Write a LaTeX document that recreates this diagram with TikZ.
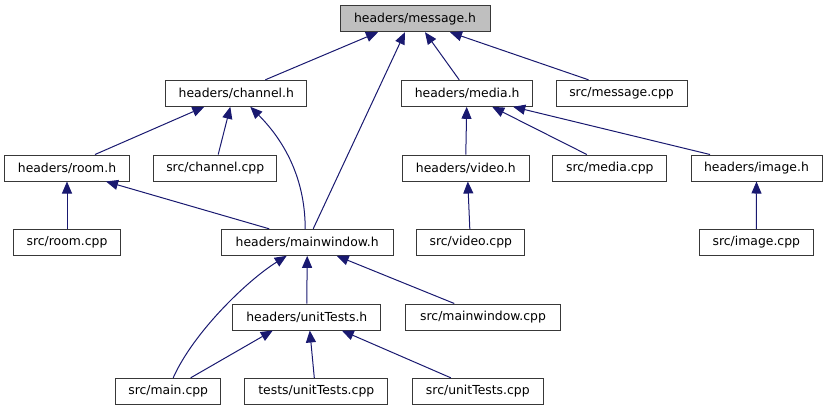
\documentclass[tikz,border=0pt]{standalone}
\usepackage{fontspec}
\setmainfont{DejaVu Sans}
\usetikzlibrary{arrows.meta}
\definecolor{midnight}{RGB}{25,25,112}
\definecolor{boxgray}{RGB}{191,191,191}
\begin{document}
\begin{tikzpicture}[x=1bp,y=-1bp,
  box/.style={draw=black!78, line width=1bp, rectangle, inner sep=0pt, minimum height=26bp, font=\fontsize{12.4bp}{14bp}\selectfont, fill=white},
  edge/.style={draw=midnight, line width=1bp, -{Triangle[length=12bp,width=10bp]}}]
\useasboundingbox (0,0) rectangle (827,411);
% nodes
\node[box, minimum width=150bp, fill=boxgray] (msg) at (415,18.7) {headers/message.h};
\node[box, minimum width=141bp] (ch) at (236.3,93.3) {headers/channel.h};
\node[box, minimum width=131bp] (med) at (467.2,93.3) {headers/media.h};
\node[box, minimum width=131bp] (msgcpp) at (621.5,93.3) {src/message.cpp};
\node[box, minimum width=124bp] (room) at (67,168) {headers/room.h};
\node[box, minimum width=123bp] (chcpp) at (215.2,168) {src/channel.cpp};
\node[box, minimum width=127bp] (vid) at (465.8,168) {headers/video.h};
\node[box, minimum width=114bp] (medcpp) at (609.8,168) {src/media.cpp};
\node[box, minimum width=131bp] (img) at (756.5,168) {headers/image.h};
\node[box, minimum width=107.4bp] (roomcpp) at (67,242.3) {src/room.cpp};
\node[box, minimum width=172.3bp] (mw) at (307.2,242.3) {headers/mainwindow.h};
\node[box, minimum width=108.3bp] (vidcpp) at (470.8,242.3) {src/video.cpp};
\node[box, minimum width=114bp] (imgcpp) at (756.3,242.3) {src/image.cpp};
\node[box, minimum width=148.3bp] (ut) at (306.8,317) {headers/unitTests.h};
\node[box, minimum width=154.6bp] (mwcpp) at (483,317) {src/mainwindow.cpp};
\node[box, minimum width=105bp] (maincpp) at (168.2,391.3) {src/main.cpp};
\node[box, minimum width=142.7bp] (tut) at (316.3,391.3) {tests/unitTests.cpp};
\node[box, minimum width=131bp] (sut) at (477.8,391.3) {src/unitTests.cpp};
% edges
\draw[edge] ([xshift=29bp]ch.north) -- ([xshift=-37bp]msg.south);
\draw[edge] ([xshift=6bp]mw.north) -- ([xshift=-10bp]msg.south);
\draw[edge] ([xshift=-8bp]med.north) -- ([xshift=10bp]msg.south);
\draw[edge] ([xshift=-33bp]msgcpp.north) -- ([xshift=35bp]msg.south);
\draw[edge] ([xshift=28bp]room.north) -- ([xshift=-32bp]ch.south);
\draw[edge] ([xshift=3bp]chcpp.north) -- ([xshift=-6bp]ch.south);
\draw[edge] ([xshift=-2bp]mw.north) .. controls +(0,-55) and +(30,30) .. ([xshift=14bp]ch.south);
\draw[edge] (vid.north) -- ([xshift=-0.5bp]med.south);
\draw[edge] ([xshift=-23bp]medcpp.north) -- ([xshift=25bp]med.south);
\draw[edge] ([xshift=-46.5bp]img.north) -- ([xshift=46bp]med.south);
\draw[edge] (roomcpp.north) -- (room.south);
\draw[edge] ([xshift=-38bp]mw.north) -- ([xshift=39bp]room.south);
\draw[edge] ([xshift=-1bp]vidcpp.north) -- ([xshift=2bp]vid.south);
\draw[edge] (imgcpp.north) -- (img.south);
\draw[edge] ([xshift=5bp]maincpp.north) .. controls +(20,-45) and +(-40,25) .. ([xshift=-20.5bp]mw.south);
\draw[edge] (ut.north) -- (mw.south);
\draw[edge] ([xshift=-28.7bp]mwcpp.north) -- ([xshift=29.5bp]mw.south);
\draw[edge] ([xshift=22.5bp]maincpp.north) -- ([xshift=-34bp]ut.south);
\draw[edge] ([xshift=-2bp]tut.north) -- ([xshift=3bp]ut.south);
\draw[edge] ([xshift=-27bp]sut.north) -- ([xshift=35bp]ut.south);
\end{tikzpicture}
\end{document}
